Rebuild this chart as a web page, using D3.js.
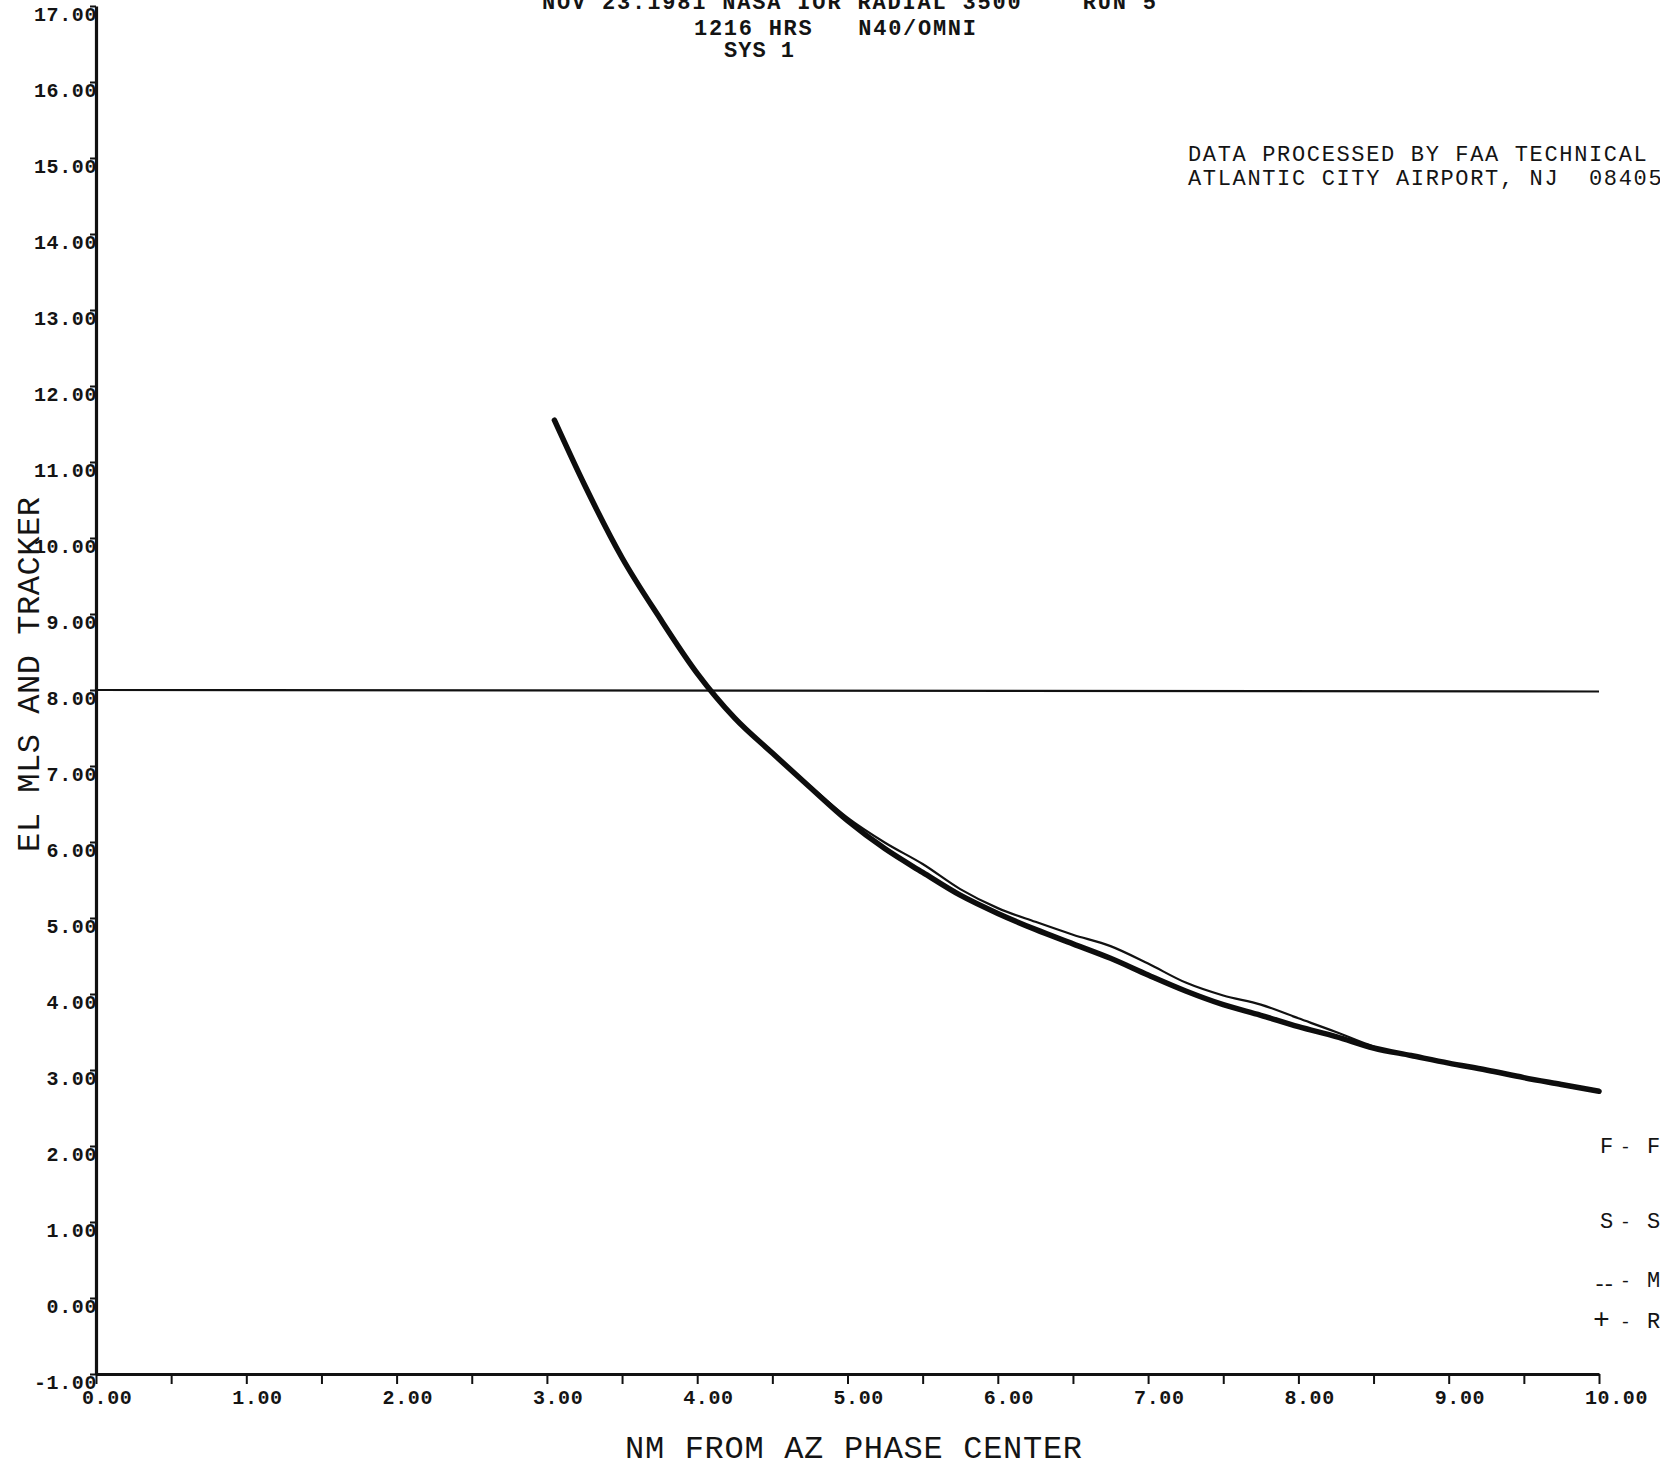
<!DOCTYPE html>
<html>
<head>
<meta charset="utf-8">
<script src="https://cdn.jsdelivr.net/npm/d3@7"></script>
<style>
  html, body { margin: 0; padding: 0; background: #fff; }
  svg { display: block; }
  text { font-family: 'Liberation Mono', 'DejaVu Sans Mono', monospace; fill: #141414; white-space: pre; }
</style>
</head>
<body>
<svg id="chart" width="1660" height="1464"></svg>
<script>
// ---- plot text ----
const titleLines = ["NOV 23.1981 NASA IOR RADIAL 3500    RUN 5", "1216 HRS   N40/OMNI", "SYS 1"];
const noteLines = ["DATA PROCESSED BY FAA TECHNICAL", "ATLANTIC CITY AIRPORT, NJ  08405"];
const xTitle = "NM FROM AZ PHASE CENTER";
const yTitle = "EL MLS AND TRACKER";

// ---- axes ----
const distTicks = [0, 0.5, 1, 1.5, 2, 2.5, 3, 3.5, 4, 4.5, 5, 5.5, 6, 6.5, 7, 7.5, 8, 8.5, 9, 9.5, 10];
const distLabelValues = [0, 1, 2, 3, 4, 5, 6, 7, 8, 9, 10];
const distLabels = ["0.00", "1.00", "2.00", "3.00", "4.00", "5.00", "6.00", "7.00", "8.00", "9.00", "10.00"];
const elTicks = [-1, 0, 1, 2, 3, 4, 5, 6, 7, 8, 9, 10, 11, 12, 13, 14, 15, 16, 17];
const elLabels = ["-1.00", "0.00", "1.00", "2.00", "3.00", "4.00", "5.00", "6.00", "7.00", "8.00",
                  "9.00", "10.00", "11.00", "12.00", "13.00", "14.00", "15.00", "16.00", "17.00"];

// ---- series: elevation angle (deg) vs distance (NM) ----
const trackerDist = [3.05, 3.25, 3.50, 3.75, 4.00, 4.25, 4.50, 4.75, 5.00, 5.25, 5.50, 5.75, 6.00, 6.25,
                     6.50, 6.75, 7.00, 7.25, 7.50, 7.75, 8.00, 8.25, 8.50, 8.75, 9.00, 9.25, 9.50, 9.75, 10.0];
const trackerEl   = [11.55, 10.70, 9.74, 8.95, 8.22, 7.63, 7.17, 6.72, 6.28, 5.91, 5.60, 5.30, 5.06, 4.85,
                     4.66, 4.47, 4.25, 4.04, 3.86, 3.72, 3.57, 3.44, 3.29, 3.19, 3.09, 3.00, 2.90, 2.81, 2.72];
const mlsDist = [3.05, 3.25, 3.50, 3.75, 4.00, 4.25, 4.50, 4.75, 5.00, 5.25, 5.50, 5.75, 6.00, 6.25,
                 6.50, 6.75, 7.00, 7.25, 7.50, 7.75, 8.00, 8.25, 8.50, 8.75, 9.00, 9.25, 9.50, 9.75, 10.0];
const mlsEl   = [11.55, 10.70, 9.74, 8.95, 8.22, 7.63, 7.18, 6.74, 6.32, 5.99, 5.71, 5.38, 5.13, 4.95,
                 4.78, 4.63, 4.40, 4.15, 3.98, 3.86, 3.68, 3.50, 3.31, 3.19, 3.09, 3.00, 2.90, 2.81, 2.72];
const referenceEl = 8.00;

// ---- legend ----
const legendSymbols = ["F", "S", "--", "+"];
const legendNames = ["FLIGHT", "SMOOTHED", "MLS", "RADAR"];

const svg = d3.select("#chart");
const W = 1660, H = 1464;
svg.append("rect").attr("width", W).attr("height", H).attr("fill", "#fff");

const x = d3.scaleLinear().domain([0, 10]).range([96, 1599]);
const y = d3.scaleLinear().domain([-1, 17]).range([1374, 6]);

// horizontal reference line
svg.append("line")
  .attr("x1", x(0)).attr("x2", x(10))
  .attr("y1", y(referenceEl)).attr("y2", y(referenceEl) + 1.5)
  .attr("stroke", "#111").attr("stroke-width", 2.2);

// curves
const line = d3.line().curve(d3.curveMonotoneX);
svg.append("path")
  .attr("d", line(mlsDist.map((d, i) => [x(d), y(mlsEl[i])])))
  .attr("fill", "none").attr("stroke", "#111").attr("stroke-width", 2.2);
svg.append("path")
  .attr("d", line(trackerDist.map((d, i) => [x(d), y(trackerEl[i])])))
  .attr("fill", "none").attr("stroke", "#0d0d0d").attr("stroke-width", 5.5)
  .attr("stroke-linecap", "round").attr("stroke-linejoin", "round");

// x axis
const xAxis = svg.append("g").attr("transform", `translate(0,${y(-1)})`)
  .call(d3.axisBottom(x).tickValues(distTicks).tickSize(10).tickSizeOuter(0).tickFormat(""));
xAxis.select(".domain").attr("stroke", "#111").attr("stroke-width", 3.2);
xAxis.selectAll(".tick line").attr("stroke", "#111").attr("stroke-width", 2);

svg.append("g").selectAll("text").data(distLabelValues).join("text")
  .attr("x", d => x(d) - 14)
  .attr("y", y(-1) + 30)
  .attr("font-size", 20).attr("font-weight", "bold").attr("letter-spacing", 0.6)
  .text((d, i) => distLabels[i]);

// y axis
const yAxis = svg.append("g").attr("transform", `translate(${x(0)},0)`)
  .call(d3.axisLeft(y).tickValues(elTicks).tickSize(6).tickSizeOuter(0).tickFormat(""));
yAxis.select(".domain").attr("stroke", "#111").attr("stroke-width", 3.2);
yAxis.selectAll(".tick line").attr("stroke", "#111").attr("stroke-width", 2);

svg.append("g").selectAll("text").data(elTicks).join("text")
  .attr("x", x(0) + 1)
  .attr("y", d => y(d) + 15)
  .attr("text-anchor", "end")
  .attr("font-size", 20).attr("font-weight", "bold").attr("letter-spacing", 0.6)
  .text((d, i) => elLabels[i]);

// axis titles
svg.append("text").attr("x", 625).attr("y", 1458)
  .attr("font-size", 32).attr("textLength", 457).attr("lengthAdjust", "spacing")
  .text(xTitle);
svg.append("text").attr("transform", "translate(39,852) rotate(-90)")
  .attr("font-size", 32).attr("textLength", 355).attr("lengthAdjust", "spacing")
  .text(yTitle);

// title block
const titlePos = [[542, 9, 614], [694, 35, 282], [724, 57, 70]];
svg.append("g").selectAll("text").data(titleLines).join("text")
  .attr("x", (d, i) => titlePos[i][0])
  .attr("y", (d, i) => titlePos[i][1])
  .attr("textLength", (d, i) => titlePos[i][2]).attr("lengthAdjust", "spacing")
  .attr("font-size", 22).attr("font-weight", "bold")
  .text(d => d);

// processing note
svg.append("g").selectAll("text").data(noteLines).join("text")
  .attr("x", 1188)
  .attr("y", (d, i) => 161 + i * 24)
  .attr("font-size", 22).attr("letter-spacing", 1.65)
  .text(d => d);

// legend (runs off the right edge)
const legendY = [1153, 1228, 1287, 1328];
const legendSymX = [1600, 1600, 1593, 1593];
const lg = svg.append("g").selectAll("g").data(legendSymbols).join("g");
lg.append("text").attr("x", (d, i) => legendSymX[i]).attr("y", (d, i) => legendY[i] + (i === 2 ? 4 : 0))
  .attr("font-size", (d, i) => i === 3 ? 28 : 22).attr("letter-spacing", (d, i) => i === 2 ? -4 : 0)
  .text(d => d);
lg.append("text").attr("x", 1620).attr("y", (d, i) => legendY[i])
  .attr("font-size", 18).text("-");
lg.append("text").attr("x", 1647).attr("y", (d, i) => legendY[i])
  .attr("font-size", 22).text((d, i) => legendNames[i]);
</script>
</body>
</html>
